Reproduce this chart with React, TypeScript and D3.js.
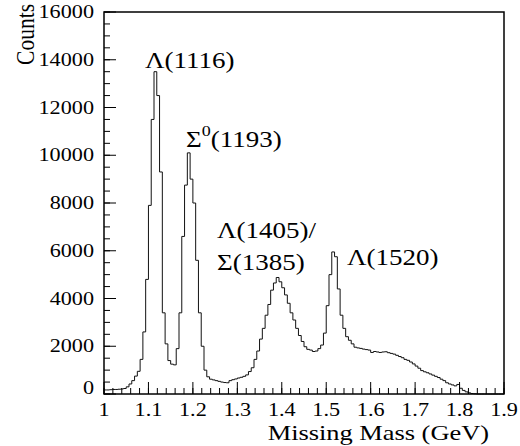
import React from "react";
import * as d3 from "d3";

// missing mass histogram, 144 bins of 6.25 MeV from 1.0 to 1.9 GeV
const histLow = 1.0;
const binWidth = 0.00625;
const counts = [
  170, 170, 180, 190, 190, 200, 210, 230, 300, 420,
  560, 750, 950, 1450, 2600, 4800, 7900, 11500, 13500, 12500,
  9300, 3400, 2100, 1400, 1250, 1220, 1900, 3400, 6600, 8750,
  10100, 9000, 8000, 5600, 3400, 2000, 1000, 720, 620, 590,
  560, 530, 500, 480, 470, 560, 600, 630, 670, 700,
  740, 800, 940, 1100, 1450, 1800, 2300, 2750, 3300, 3750,
  4350, 4650, 4880, 4700, 4450, 4150, 3800, 3400, 3100, 2750,
  2450, 2200, 1980, 1870, 1840, 1780, 1800, 1900, 2050, 2550,
  3700, 5000, 5950, 5750, 4400, 3300, 2750, 2400, 2250, 2100,
  1960, 1930, 1910, 1880, 1860, 1840, 1740, 1780, 1760, 1740,
  1760, 1770, 1730, 1700, 1670, 1620, 1570, 1520, 1450, 1410,
  1340, 1260, 1170, 1080, 980, 930, 890, 840, 790, 740,
  690, 620, 560, 470, 420, 380, 340, 400, 240, 150,
  90, 50, 20, 10, 0, 0, 0, 0, 0, 0,
  0, 0, 0, 0,
];

const xDomain = [1, 1.9];
const yDomain = [0, 16000];
const xTitle = "Missing Mass (GeV)";
const yTitle = "Counts";

const FONT = "'Liberation Serif', 'Times New Roman', serif";
const SX = 1.2; // the original is a bit stretched sideways

const Txt = ({ x, y, size, anchor = "start", rotate = 0, children }: any) => (
  <text
    transform={`translate(${x},${y}) scale(${SX},1)${rotate ? ` rotate(${rotate})` : ""}`}
    fontSize={size}
    fontFamily={FONT}
    textAnchor={anchor}
    fill="#000"
  >
    {children}
  </text>
);

export default function App() {
  const width = 520;
  const height = 446;
  const x = d3.scaleLinear().domain(xDomain).range([104, 504]);
  const y = d3.scaleLinear().domain(yDomain).range([394, 12]);

  const pts: [number, number][] = counts.map((c, i) => [histLow + i * binWidth, c]);
  pts.push([histLow + counts.length * binWidth, counts[counts.length - 1]]);
  const step = d3
    .line<[number, number]>()
    .x((d) => x(d[0]))
    .y((d) => y(d[1]))
    .curve(d3.curveStepAfter);

  const xMajor = x.ticks(9);
  const xMinor = x.ticks(45);
  const yMajor = y.ticks(8);
  const yMinor = y.ticks(32);
  const [x0, x1] = x.range();
  const [y0, y1] = y.range();

  return (
    <svg
      width={width}
      height={height}
      style={{ position: "absolute", left: 0, top: 0, background: "#fff" }}
    >
      {/* histogram */}
      <path d={step(pts) || ""} fill="none" stroke="#111" strokeWidth={1} />

      {/* ticks */}
      {xMinor.map((t) => (
        <line key={"xm" + t} x1={x(t)} x2={x(t)} y1={y0} y2={y0 - 6} stroke="#000" strokeWidth={1} />
      ))}
      {xMajor.map((t) => (
        <line key={"xM" + t} x1={x(t)} x2={x(t)} y1={y0} y2={y0 - 12} stroke="#000" strokeWidth={1} />
      ))}
      {yMinor.map((t) => (
        <line key={"ym" + t} x1={x0} x2={x0 + 6} y1={y(t)} y2={y(t)} stroke="#000" strokeWidth={1} />
      ))}
      {yMajor.map((t) => (
        <line key={"yM" + t} x1={x0} x2={x0 + 12} y1={y(t)} y2={y(t)} stroke="#000" strokeWidth={1} />
      ))}

      {/* frame */}
      <rect x={x0} y={y1} width={x1 - x0} height={y0 - y1} fill="none" stroke="#000" strokeWidth={1.5} />

      {/* tick labels */}
      {xMajor.map((t) => (
        <Txt key={"xl" + t} x={x(t)} y={y0 + 22} size={18.5} anchor="middle">
          {String(+t.toFixed(1))}
        </Txt>
      ))}
      {yMajor.map((t) => (
        <Txt key={"yl" + t} x={x0 - 10} y={y(t) + (t === 0 ? 0 : 6)} size={18.5} anchor="end">
          {String(t)}
        </Txt>
      ))}

      {/* axis titles */}
      <Txt x={489} y={440} size={22} anchor="end">{xTitle}</Txt>
      <Txt x={34} y={4} size={21.5} anchor="end" rotate={-90}>{yTitle}</Txt>

      {/* peak labels */}
      <Txt x={145} y={68} size={22.5}>Λ(1116)</Txt>
      <Txt x={186} y={147} size={22.5}>
        <tspan>Σ</tspan>
        <tspan dy={-11} fontSize={15}>0</tspan>
        <tspan dy={11}>(1193)</tspan>
      </Txt>
      <Txt x={217} y={238} size={22.5}>Λ(1405)/</Txt>
      <Txt x={217} y={270} size={22.5}>Σ(1385)</Txt>
      <Txt x={347} y={265} size={22.5}>Λ(1520)</Txt>
    </svg>
  );
}
